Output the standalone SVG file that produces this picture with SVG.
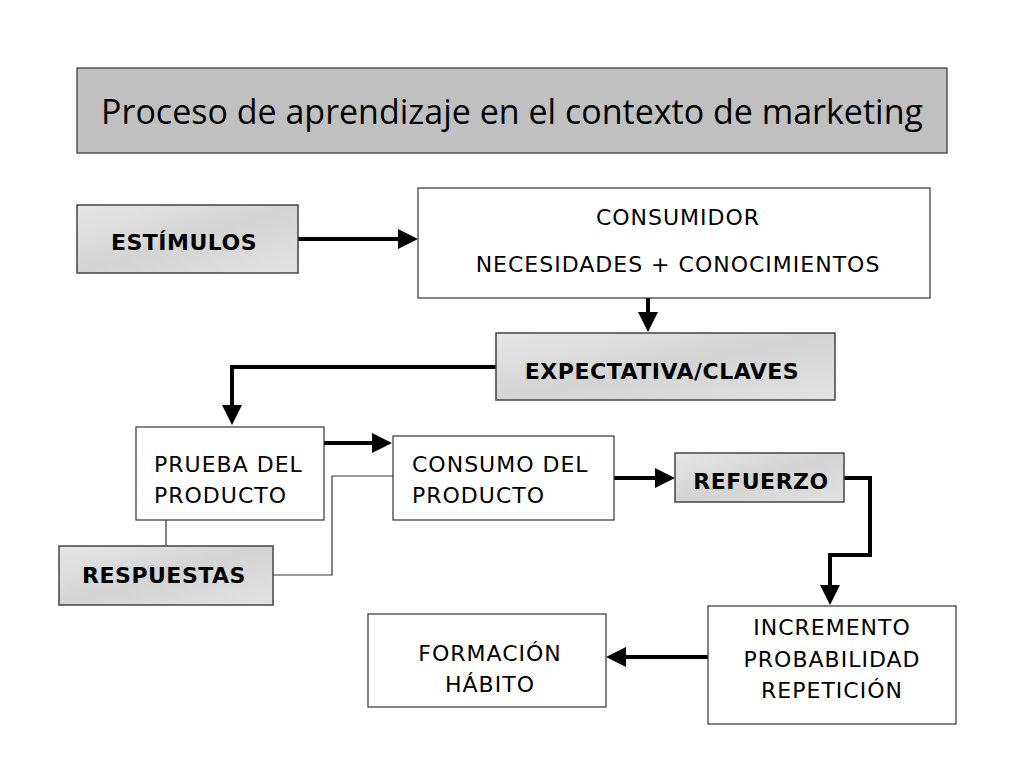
<svg xmlns="http://www.w3.org/2000/svg" width="1024" height="768" viewBox="0 0 1024 768">
<style>
.box{fill:#fff;stroke:#333;stroke-width:1.2}
.mar{fill:url(#marble);stroke:#444;stroke-width:1.5}
.t{font-family:"DejaVu Sans",sans-serif;font-size:22px;letter-spacing:1px;fill:#000}
.b{font-family:"DejaVu Sans",sans-serif;font-size:22px;font-weight:bold;letter-spacing:0.5px;fill:#000}
.th{stroke:#000;stroke-width:4;fill:none}
.tn{stroke:#333;stroke-width:1.2;fill:none}
</style>
<defs>
<linearGradient id="marble" x1="0" y1="0" x2="1" y2="1">
<stop offset="0" stop-color="#e6e6e6"/><stop offset="0.5" stop-color="#d4d4d4"/><stop offset="1" stop-color="#e2e2e2"/>
</linearGradient>
<marker id="ah" markerWidth="5" markerHeight="5" refX="4" refY="2.5" orient="auto" markerUnits="strokeWidth">
<path d="M0,0 L5,2.5 L0,5 z" fill="#000"/>
</marker>
</defs>
<rect width="1024" height="768" fill="#fff"/>
<g id="title"><rect x="77" y="68" width="870" height="85" fill="#c0c0c0" stroke="#333" stroke-width="1.2"/>
<text x="512" y="124" text-anchor="middle" font-family="'Open Sans',sans-serif" font-size="34" fill="#000">Proceso de aprendizaje en el contexto de marketing</text></g>
<g id="connectors">
<line class="th" x1="298" y1="239" x2="414" y2="239" marker-end="url(#ah)"/>
<line class="th" x1="648" y1="298" x2="648" y2="328" marker-end="url(#ah)"/>
<polyline class="th" points="496,367 232,367 232,421" marker-end="url(#ah)"/>
<line class="th" x1="324" y1="443" x2="388" y2="443" marker-end="url(#ah)"/>
<line class="th" x1="614" y1="478" x2="671" y2="478" marker-end="url(#ah)"/>
<polyline class="th" points="844,478 870,478 870,555 830,555 830,601" marker-end="url(#ah)"/>
<line class="th" x1="708" y1="657" x2="610" y2="657" marker-end="url(#ah)"/>
<line class="tn" x1="166" y1="520" x2="166" y2="546"/>
<polyline class="tn" points="273,575 332,575 332,476 393,476"/>
</g>
<g id="estimulos"><rect class="mar" x="77" y="205" width="221" height="68"/><text class="b" x="184" y="250" text-anchor="middle">ESTÍMULOS</text></g>
<g id="consumidor"><rect class="box" x="418" y="188" width="512" height="110"/>
<text class="t" x="678" y="225" text-anchor="middle">CONSUMIDOR</text>
<text class="t" x="678" y="272" text-anchor="middle">NECESIDADES + CONOCIMIENTOS</text></g>
<g id="expectativa"><rect class="mar" x="496" y="333" width="339" height="67"/><text class="b" x="662" y="379" text-anchor="middle">EXPECTATIVA/CLAVES</text></g>
<g id="prueba"><rect class="box" x="136" y="427" width="188" height="93"/>
<text class="t" x="154" y="472">PRUEBA DEL</text><text class="t" x="154" y="503">PRODUCTO</text></g>
<g id="consumo"><rect class="box" x="393" y="436" width="221" height="84"/>
<text class="t" x="412" y="472">CONSUMO DEL</text><text class="t" x="412" y="503">PRODUCTO</text></g>
<g id="refuerzo"><rect class="mar" x="675" y="453" width="169" height="49"/><text class="b" x="761" y="489" text-anchor="middle">REFUERZO</text></g>
<g id="respuestas"><rect class="mar" x="59" y="546" width="214" height="59"/><text class="b" x="164" y="583" text-anchor="middle">RESPUESTAS</text></g>
<g id="incremento"><rect class="box" x="708" y="606" width="248" height="118"/>
<text class="t" x="832" y="635" text-anchor="middle">INCREMENTO</text>
<text class="t" x="832" y="667" text-anchor="middle">PROBABILIDAD</text>
<text class="t" x="832" y="698" text-anchor="middle">REPETICIÓN</text></g>
<g id="formacion"><rect class="box" x="368" y="614" width="238" height="93"/>
<text class="t" x="490" y="661" text-anchor="middle">FORMACIÓN</text>
<text class="t" x="490" y="692" text-anchor="middle">HÁBITO</text></g>
</svg>
